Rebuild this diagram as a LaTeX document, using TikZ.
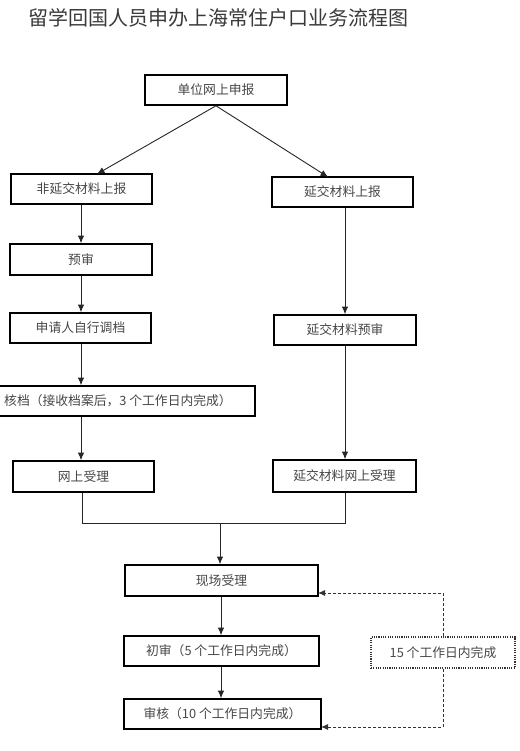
\documentclass[tikz,border=0pt]{standalone}
\usepackage{fontspec}
\setmainfont{Noto Sans CJK SC}
\usetikzlibrary{arrows.meta,calc}
\definecolor{txt}{HTML}{474747}
\definecolor{ttl}{HTML}{3A3A3A}
\tikzset{
  stepbox/.style={draw=black,line width=1.6pt,inner sep=0pt,text=txt,font=\fontsize{12.8}{14}\selectfont},
  arr/.style={-{Latex[length=7.5pt,width=6.5pt]},line width=0.9pt,draw=black!85},
  plain/.style={line width=0.9pt,draw=black!85},
  darr/.style={-{Latex[length=7pt,width=6pt]},line width=0.9pt,draw=black!80,dash pattern=on 3pt off 2pt},
  dotbox/.style={draw=black!80,line width=1.5pt,dash pattern=on 1.1pt off 1.2pt,inner sep=0pt,text=txt,font=\fontsize{12.8}{14}\selectfont}
}
\begin{document}
\begin{tikzpicture}[x=1pt,y=-1pt]
\clip (0,0) rectangle (519,751);
\fill[white] (0,0) rectangle (519,751);
\node[anchor=west,text=ttl,font=\fontsize{20}{24}\selectfont,inner sep=0pt] (title) at (28,18) {留学回国人员申办上海常住户口业务流程图};

\node[stepbox,minimum width=142pt,minimum height=30pt] (top) at (216,90) {单位网上申报};
\node[stepbox,minimum width=141pt,minimum height=30pt] (a1) at (81.5,189) {非延交材料上报};
\node[stepbox,minimum width=141pt,minimum height=30pt] (b1) at (342.5,192) {延交材料上报};
\node[stepbox,minimum width=142pt,minimum height=31pt] (a2) at (81,259.5) {预审};
\node[stepbox,minimum width=141pt,minimum height=30pt] (a3) at (80.5,328) {申请人自行调档};
\node[stepbox,minimum width=142pt,minimum height=30pt] (b2) at (345,330) {延交材料预审};
\node[stepbox,minimum width=274pt,minimum height=30pt] (a4) at (118,401) {核档（接收档案后，3 个工作日内完成）};
\node[stepbox,minimum width=141pt,minimum height=31pt] (a5) at (83.5,476.5) {网上受理};
\node[stepbox,minimum width=143pt,minimum height=32pt] (b3) at (344.5,476) {延交材料网上受理};
\node[stepbox,minimum width=193pt,minimum height=31pt] (c1) at (221.5,580.5) {现场受理};
\node[stepbox,minimum width=195pt,minimum height=30pt] (c2) at (221.5,651) {初审（5 个工作日内完成）};
\node[stepbox,minimum width=197pt,minimum height=30pt] (c3) at (222.5,714) {审核（10 个工作日内完成）};
\node[dotbox,minimum width=144pt,minimum height=31pt] (d) at (443,652.5) {15 个工作日内完成};

% top split
\draw[arr] (top.south) -- (97,174);
\draw[arr] (top.south) -- (328,177);
% left column
\coordinate (lx) at (81,0);
\draw[arr] (lx |- a1.south) -- (lx |- a2.north);
\draw[arr] (lx |- a2.south) -- (lx |- a3.north);
\draw[arr] (lx |- a3.south) -- (lx |- a4.north);
\draw[arr] (lx |- a4.south) -- (lx |- a5.north);
% right column
\coordinate (rx) at (345,0);
\draw[arr] (rx |- b1.south) -- (rx |- b2.north);
\draw[arr] (rx |- b2.south) -- (rx |- b3.north);
% join
\coordinate (j) at (220,523);
\coordinate (jl) at (82,523);
\draw[plain] (jl |- a5.south) -- (jl) -- (j);
\draw[plain] (rx |- b3.south) -- (rx |- j) -- (j);
\draw[arr] (j) -- (j |- c1.north);
% center column
\coordinate (cx) at (221,0);
\draw[arr] (cx |- c1.south) -- (cx |- c2.north);
\draw[arr] (cx |- c2.south) -- (cx |- c3.north);
% dashed feedback
\coordinate (e1) at (318,593);
\coordinate (e2) at (321,727);
\draw[darr] (d.north) |- (e1);
\draw[darr] (d.south) |- (e2);
\end{tikzpicture}
\end{document}
